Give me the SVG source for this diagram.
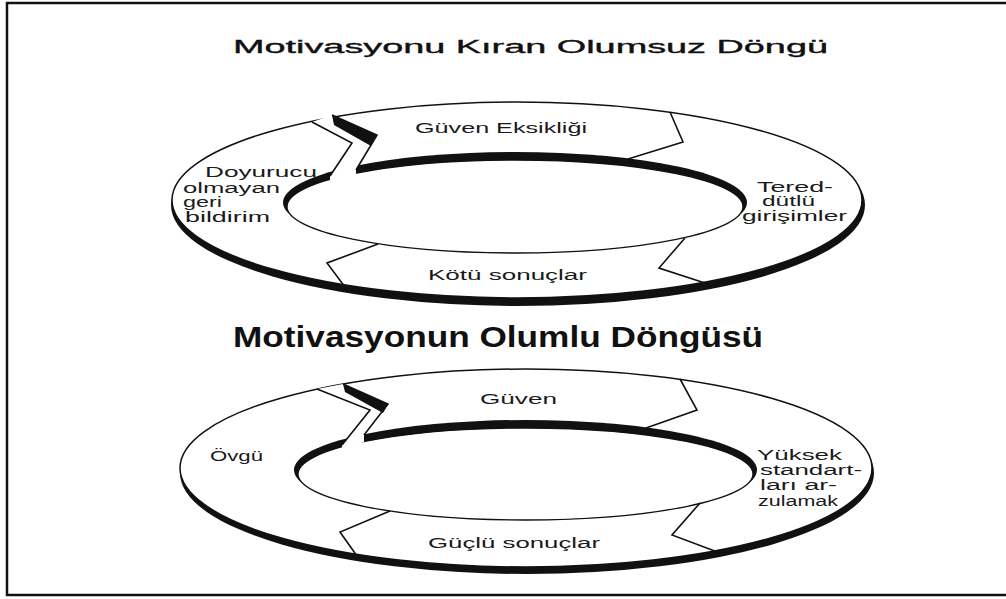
<svg xmlns="http://www.w3.org/2000/svg" width="1006" height="599" viewBox="0 0 1006 599">
  <style>
    .rim{fill:#fff;stroke:#111;stroke-width:1.5}
    .hole{fill:#fff;stroke:#111;stroke-width:1.3}
    .shade{fill:#111}
    .gap{fill:#fff}
    .edge{fill:none;stroke:#111;stroke-width:1.6;stroke-linejoin:miter}
    .lbl{font-family:"Liberation Sans",Arial,sans-serif;font-size:14px;fill:#1a1a1a}
    .ttl{font-family:"Liberation Sans",Arial,sans-serif;fill:#111}
  </style>
  <rect width="1006" height="599" fill="#fff"/>
  <!-- page frame, open on the right -->
  <path d="M1006,3 H7 V595 H1006" fill="none" stroke="#111" stroke-width="2.5"/>

  <!-- headings -->
  <g id="title-negative">
    <text class="ttl" x="233" y="53" font-size="19" stroke="#111" stroke-width="0.35" textLength="595" lengthAdjust="spacingAndGlyphs">Motivasyonu Kıran Olumsuz Döngü</text>
  </g>
  <g id="title-positive">
    <text class="ttl" x="233" y="347" font-size="29" font-weight="bold" textLength="530" lengthAdjust="spacingAndGlyphs">Motivasyonun Olumlu Döngüsü</text>
  </g>

  <!-- upper ring: outer rim with lower shadow, inner opening with upper shadow -->
  <g id="ring-negative">
    <ellipse class="shade" cx="518" cy="205" rx="347" ry="101"/>
    <ellipse class="rim" cx="517" cy="200" rx="345" ry="98"/>
    <ellipse class="shade" cx="515" cy="202.5" rx="232" ry="50.5"/>
    <ellipse class="hole" cx="515" cy="206.5" rx="228" ry="46.5"/>
    <polygon class="gap" points="312,122 332,115 377,135 356,170 356,177 330,183 330,176 352,143"/>
    <polygon class="shade" points="332,115 377,135 371,146 334,125"/>
  </g>

  <!-- lower ring -->
  <g id="ring-positive">
    <ellipse class="shade" cx="527" cy="473" rx="347" ry="101"/>
    <ellipse class="rim" cx="526" cy="468" rx="346" ry="99"/>
    <ellipse class="shade" cx="525.5" cy="470" rx="231.5" ry="50"/>
    <ellipse class="hole" cx="525.5" cy="474" rx="227.5" ry="46"/>
    <polygon class="gap" points="317,389 343,384 388,404 364,435 364,442 342,450 342,445 370,410"/>
    <polygon class="shade" points="343,384 388,404 383,413 345,392"/>
  </g>

  <!-- arrow edges between the stages -->
  <g id="connectors">
    <polyline class="edge" points="312,122 352,143 330,176"/>
    <polyline class="edge" points="332,115 377,135 356,170"/>
    <polyline class="edge" points="670,112 683,142 628,159"/>
    <polyline class="edge" points="685,238 659,268 708,284"/>
    <polyline class="edge" points="378,244 327,263 345,287"/>

    <polyline class="edge" points="317,389 370,410 342,445"/>
    <polyline class="edge" points="343,384 388,404 364,435"/>
    <polyline class="edge" points="680,379 697,410 646,428"/>
    <polyline class="edge" points="700,503 672,535 720,553"/>
    <polyline class="edge" points="390,511 340,532 357,556"/>
  </g>

  <!-- stages of the negative cycle -->
  <g id="node-guven-eksikligi">
    <text class="lbl" x="415" y="133" textLength="172" lengthAdjust="spacingAndGlyphs">Güven Eksikliği</text>
  </g>
  <g id="node-tereddutlu">
    <text class="lbl" x="757" y="192" textLength="76" lengthAdjust="spacingAndGlyphs">Tered-</text>
    <text class="lbl" x="762" y="206" textLength="53" lengthAdjust="spacingAndGlyphs">dütlü</text>
    <text class="lbl" x="742" y="221" textLength="105" lengthAdjust="spacingAndGlyphs">girişimler</text>
  </g>
  <g id="node-kotu-sonuclar">
    <text class="lbl" x="428" y="280" textLength="159" lengthAdjust="spacingAndGlyphs">Kötü sonuçlar</text>
  </g>
  <g id="node-doyurucu">
    <text class="lbl" x="205" y="177" textLength="112" lengthAdjust="spacingAndGlyphs">Doyurucu</text>
    <text class="lbl" x="183" y="193" textLength="97" lengthAdjust="spacingAndGlyphs">olmayan</text>
    <text class="lbl" x="183" y="207" textLength="39" lengthAdjust="spacingAndGlyphs">geri</text>
    <text class="lbl" x="185" y="222" textLength="85" lengthAdjust="spacingAndGlyphs">bildirim</text>
  </g>

  <!-- stages of the positive cycle -->
  <g id="node-guven">
    <text class="lbl" x="480" y="404" textLength="77" lengthAdjust="spacingAndGlyphs">Güven</text>
  </g>
  <g id="node-yuksek-standart">
    <text class="lbl" x="757" y="460" textLength="85" lengthAdjust="spacingAndGlyphs">Yüksek</text>
    <text class="lbl" x="760" y="475" textLength="102" lengthAdjust="spacingAndGlyphs">standart-</text>
    <text class="lbl" x="760" y="490" textLength="77" lengthAdjust="spacingAndGlyphs">ları ar-</text>
    <text class="lbl" x="758" y="506" textLength="80" lengthAdjust="spacingAndGlyphs">zulamak</text>
  </g>
  <g id="node-guclu-sonuclar">
    <text class="lbl" x="428" y="548" textLength="172" lengthAdjust="spacingAndGlyphs">Güçlü sonuçlar</text>
  </g>
  <g id="node-ovgu">
    <text class="lbl" x="210" y="461" textLength="53" lengthAdjust="spacingAndGlyphs">Övgü</text>
  </g>
</svg>
